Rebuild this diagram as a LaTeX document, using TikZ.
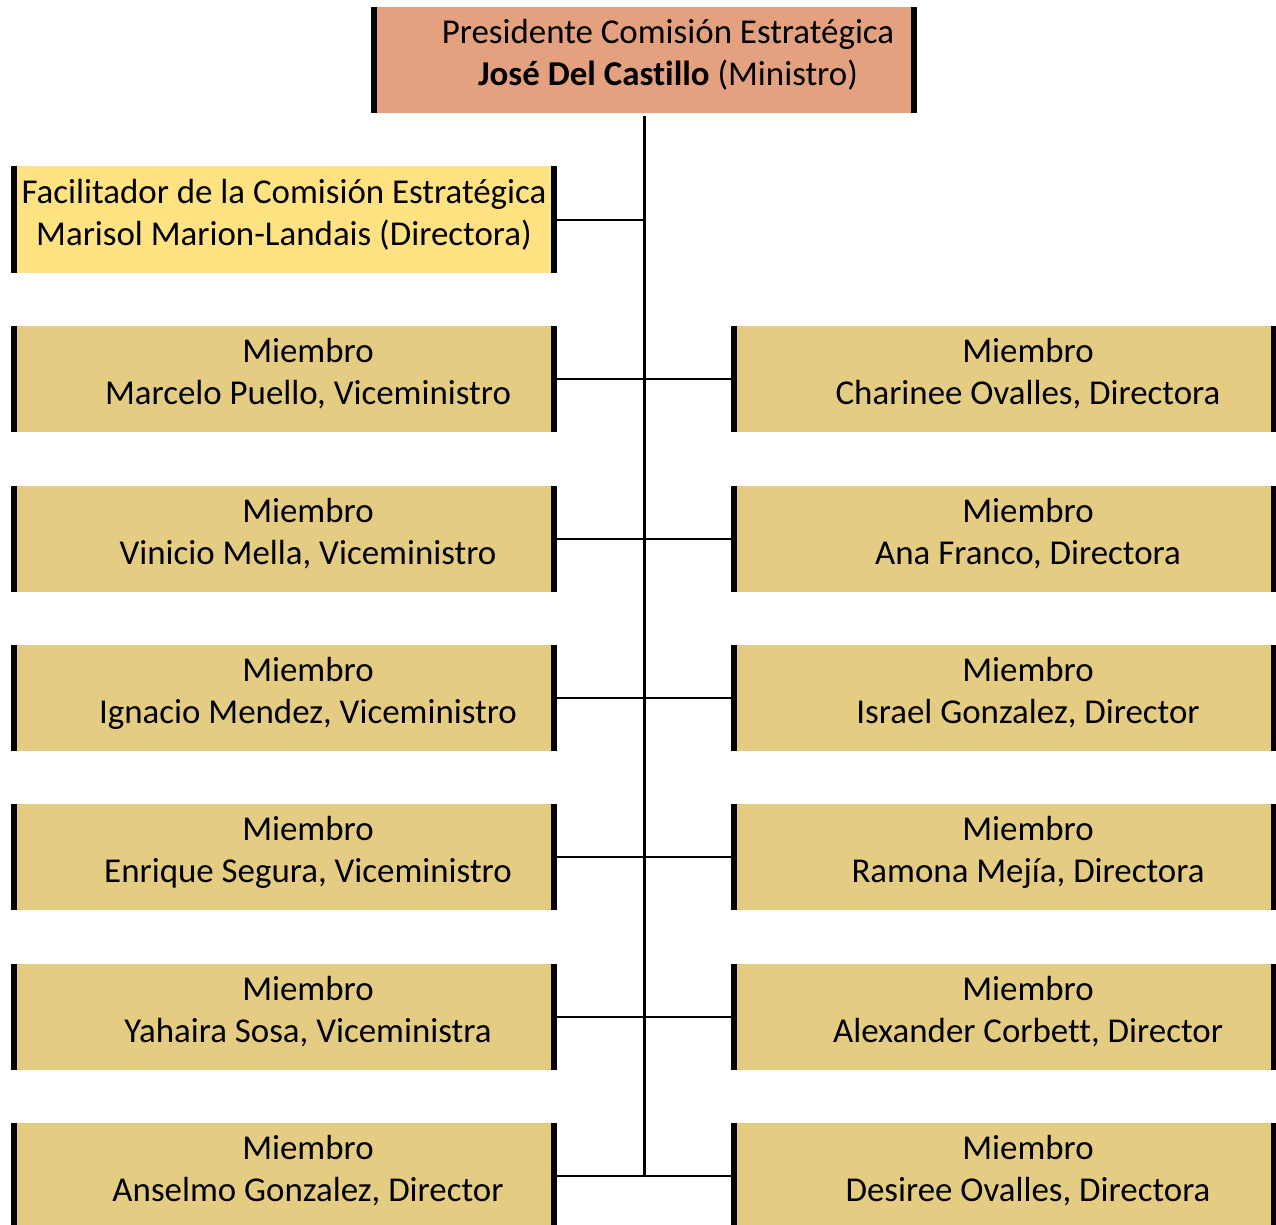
\documentclass[tikz,border=0pt]{standalone}
\usepackage{fontspec}
\setmainfont[Ligatures={NoCommon}]{Carlito}
\definecolor{topfill}{RGB}{228,161,128}
\definecolor{facfill}{RGB}{255,227,130}
\definecolor{memfill}{RGB}{229,204,131}
\tikzset{
  bx/.style={rectangle, inner sep=0pt, minimum width=546pt, minimum height=106pt,
    path picture={
      \fill[black] (path picture bounding box.south west) rectangle ([xshift=6pt]path picture bounding box.north west);
      \fill[black] (path picture bounding box.south east) rectangle ([xshift=-6pt]path picture bounding box.north east);
    }},
  topbox/.style={bx, fill=topfill},
  facbox/.style={bx, fill=facfill},
  membox/.style={bx, fill=memfill},
  txt/.style={align=center, inner sep=0pt, font=\fontsize{34.9}{42}\selectfont},
  hline/.style={line width=2pt, black},
  vline/.style={line width=3pt, black}
}
\begin{document}
\begin{tikzpicture}[x=1pt,y=-1pt]
\useasboundingbox (0,0) rectangle (1276,1225);
\clip (0,0) rectangle (1276,1225);
% boxes
\node[topbox] (top) at (644,60) {};
\node[txt] (toptxt) at ([shift={(24,-5)}]top.center) {Presidente Comisión Estratégica\\\textbf{José Del Castillo} (Ministro)};
\node[facbox] (fac) at (284,219.5) {};
\node[txt] (factxt) at ([shift={(0,-5)}]fac.center) {Facilitador de la Comisión Estratégica\\Marisol Marion-Landais (Directora)};
% left
\node[membox] (L1) at (284,379) {};
\node[membox] (L2) at (284,539) {};
\node[membox] (L3) at (284,698) {};
\node[membox] (L4) at (284,857) {};
\node[membox] (L5) at (284,1017) {};
\node[membox] (L6) at (284,1176) {};
% right
\node[membox] (R1) at (1004,379) {};
\node[membox] (R2) at (1004,539) {};
\node[membox] (R3) at (1004,698) {};
\node[membox] (R4) at (1004,857) {};
\node[membox] (R5) at (1004,1017) {};
\node[membox] (R6) at (1004,1176) {};
% texts
\node[txt] (tL1) at ([shift={(24,-5)}]L1.center) {Miembro\\Marcelo Puello, Viceministro};
\node[txt] (tL2) at ([shift={(24,-5)}]L2.center) {Miembro\\Vinicio Mella, Viceministro};
\node[txt] (tL3) at ([shift={(24,-5)}]L3.center) {Miembro\\Ignacio Mendez, Viceministro};
\node[txt] (tL4) at ([shift={(24,-5)}]L4.center) {Miembro\\Enrique Segura, Viceministro};
\node[txt] (tL5) at ([shift={(24,-5)}]L5.center) {Miembro\\Yahaira Sosa, Viceministra};
\node[txt] (tL6) at ([shift={(24,-5)}]L6.center) {Miembro\\Anselmo Gonzalez, Director};
\node[txt] (tR1) at ([shift={(24,-5)}]R1.center) {Miembro\\Charinee Ovalles, Directora};
\node[txt] (tR2) at ([shift={(24,-5)}]R2.center) {Miembro\\Ana Franco, Directora};
\node[txt] (tR3) at ([shift={(24,-5)}]R3.center) {Miembro\\Israel Gonzalez, Director};
\node[txt] (tR4) at ([shift={(24,-5)}]R4.center) {Miembro\\Ramona Mejía, Directora};
\node[txt] (tR5) at ([shift={(24,-5)}]R5.center) {Miembro\\Alexander Corbett, Director};
\node[txt] (tR6) at ([shift={(24,-5)}]R6.center) {Miembro\\Desiree Ovalles, Directora};
% connectors
\coordinate (sbot) at (644,1176);
\draw[vline] ([yshift=-3pt]top.south) -- (sbot);
\draw[hline] (fac.east) -- (fac.east -| top.south);
\foreach \i in {1,...,6}{
  \draw[hline] (L\i.east) -- (R\i.west);
}
\end{tikzpicture}
\end{document}
